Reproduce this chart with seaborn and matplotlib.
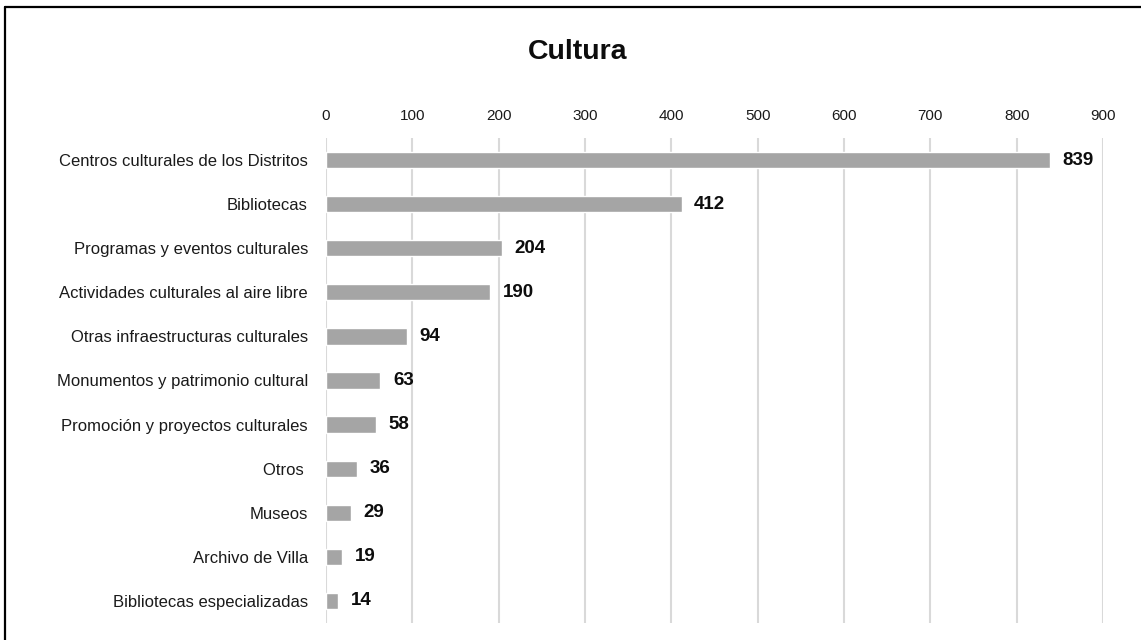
import matplotlib
matplotlib.use("Agg")
import matplotlib.pyplot as plt
from matplotlib.lines import Line2D
import seaborn as sns
import pandas as pd

categories = [
    "Centros culturales de los Distritos",
    "Bibliotecas",
    "Programas y eventos culturales",
    "Actividades culturales al aire libre",
    "Otras infraestructuras culturales",
    "Monumentos y patrimonio cultural",
    "Promoción y proyectos culturales",
    "Otros ",
    "Museos",
    "Archivo de Villa",
    "Bibliotecas especializadas",
]
values = [839, 412, 204, 190, 94, 63, 58, 36, 29, 19, 14]
x_ticks = [0, 100, 200, 300, 400, 500, 600, 700, 800, 900]

df = pd.DataFrame({"categoria": categories, "valor": values})

sns.set_theme(style="white")
plt.rcParams["font.family"] = ["Liberation Sans", "DejaVu Sans"]

fig = plt.figure(figsize=(11.41, 6.40), dpi=100)
ax = fig.add_axes([0.2857, 0.0266, 0.681, 0.7578])

sns.barplot(data=df, x="valor", y="categoria", orient="h", color="#A5A5A5",
            width=0.37, saturation=1, ax=ax, zorder=3)

ax.set_xlim(0, 900)
ax.set_xticks(x_ticks)
ax.xaxis.tick_top()
ax.tick_params(axis="x", length=0, pad=11, labelsize=11, colors="#1a1a1a")
ax.tick_params(axis="y", length=0, pad=13, labelsize=12, colors="#1a1a1a")
ax.set_xlabel("")
ax.set_ylabel("")
ax.grid(axis="x", color="#D9D9D9", linewidth=1.5, zorder=0)
ax.grid(axis="y", visible=False)
for s in ax.spines.values():
    s.set_visible(False)

for i, v in enumerate(values):
    ax.annotate(str(v), xy=(v, i), xytext=(9, 0), textcoords="offset points",
                ha="left", va="center", fontsize=13.5, fontweight="bold",
                color="#0d0d0d")

fig.text(0.506, 0.919, "Cultura", ha="center", va="center",
         fontsize=20.5, fontweight="bold", color="#0d0d0d")

# frame along the top and left edges
fig.add_artist(Line2D([0.0044, 0.0044], [0.0, 0.989], transform=fig.transFigure,
                      color="black", linewidth=1.6))
fig.add_artist(Line2D([0.0044, 1.0], [0.989, 0.989], transform=fig.transFigure,
                      color="black", linewidth=1.6))

fig.savefig("out.png", dpi=100, facecolor="white")
